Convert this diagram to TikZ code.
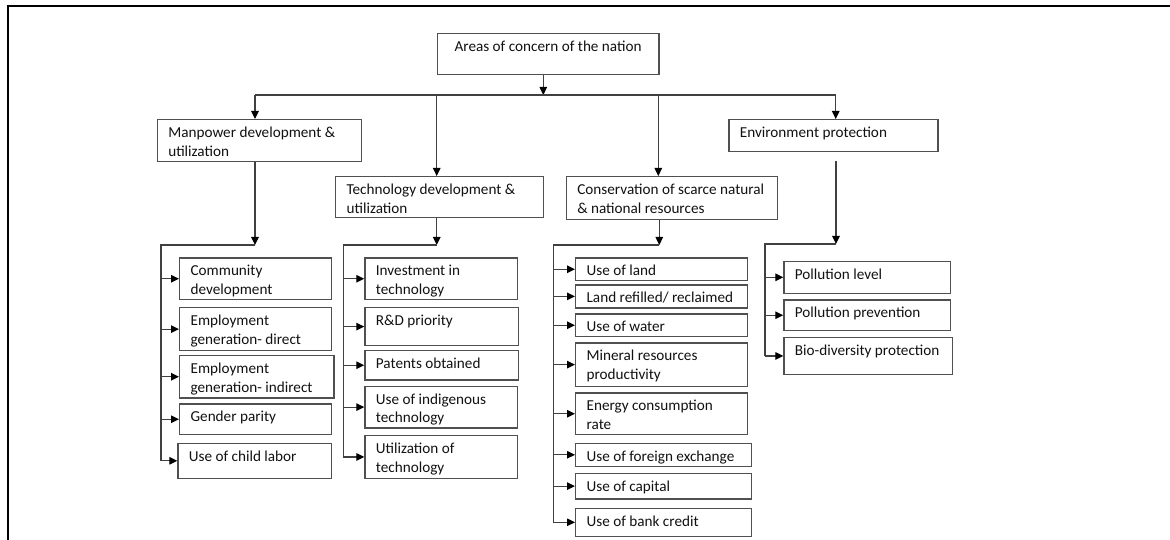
\documentclass[tikz,border=0pt]{standalone}
\usepackage{fontspec}
\setmainfont{Carlito}
\usetikzlibrary{arrows.meta}
\definecolor{boxc}{HTML}{505050}
\definecolor{linec}{HTML}{404040}
\definecolor{txtc}{HTML}{111111}
% left-aligned box text, indented from the border
\newcommand\cbxleft{\leftskip=11pt\rightskip=0pt plus 1fil\parindent=0pt\parfillskip=0pt plus 1fil\relax}
% text box: [alignment]{name}{x1}{y1}{x2}{y2}{text}
\newcommand\cbx[7][\cbxleft]{%
  \pgfmathsetmacro\cbxw{#5-#3}\pgfmathsetmacro\cbxh{#6-#4}%
  \node[cbox] (#2) at (#3,#4) {\parbox[t][\cbxh pt][t]{\cbxw pt}{#1\rule{0pt}{18pt}#7}};}
\tikzset{
  cbox/.style={draw=boxc, line width=1.2pt, inner sep=0pt, anchor=north west,
    text=txtc, font=\fontsize{15.2}{18.5}\selectfont},
  ln/.style={draw=linec, line width=1.2pt},
  arr/.style={ln, -{Triangle[length=8pt,width=7.5pt,color=black]}},
}
\begin{document}
\begin{tikzpicture}[x=1pt,y=-1pt]
\useasboundingbox (0,0) rectangle (1170,540);
% page frame
\draw[line width=2pt] (8,540) -- (8,6) -- (1170,6);

% top level and the four areas
\cbx[\centering]{top}{436.7}{33.3}{658.3}{74.3}{Areas of concern of the nation}
\cbx{mp}{156.7}{119}{360.7}{161.3}{Manpower development \&\\utilization}
\cbx{tech}{335}{176}{542.7}{217.3}{Technology development \&\\utilization}
\cbx{cons}{565.7}{176}{776.7}{219.3}{Conservation of scarce natural\\\& national resources}
\cbx{env}{728.3}{119}{937.3}{151}{Environment protection}

% manpower
\cbx{ma}{179}{257.3}{330.7}{299}{Community\\development}
\cbx{mb}{179}{307}{330.7}{350}{Employment\\generation- direct}
\cbx{mc}{179}{355}{333.3}{397.3}{Employment\\generation- indirect}
\cbx{md}{179}{403.3}{330.7}{434}{Gender parity}
\cbx{me}{177.3}{442.7}{331}{477.7}{Use of child labor}

% technology
\cbx{ta}{364.3}{257.3}{517}{299}{Investment in\\technology}
\cbx{tb}{364.3}{307}{518}{345}{R\&D priority}
\cbx{tc}{364.3}{350}{518}{379.3}{Patents obtained}
\cbx{td}{364.3}{385.7}{517}{427.3}{Use of indigenous\\technology}
\cbx{te}{364.3}{435}{517}{477.7}{Utilization of\\technology}

% conservation
\cbx{ca}{575}{257.3}{746.7}{280}{Use of land}
\cbx{cb}{575}{284.3}{746.7}{307.3}{Land refilled/ reclaimed}
\cbx{cc}{575}{313.3}{746.7}{336}{Use of water}
\cbx{cd}{575}{342.3}{746.7}{385.7}{Mineral resources\\productivity}
\cbx{ce}{575}{392.3}{746.7}{434}{Energy consumption\\rate}
\cbx{cf}{575}{442.7}{750.7}{465.7}{Use of foreign exchange}
\cbx{cg}{575}{472.7}{750.7}{498.3}{Use of capital}
\cbx{ch}{575}{507.7}{750.7}{535.7}{Use of bank credit}

% environment
\cbx{ea}{783.3}{260.7}{950}{292.7}{Pollution level}
\cbx{eb}{783.3}{299.3}{950}{330}{Pollution prevention}
\cbx{ec}{783.3}{336.7}{951.7}{374}{Bio-diversity protection}

% distribution bus below the top box
\coordinate (bus) at (543.3,95);
\coordinate (b1) at (255,95);
\coordinate (b2) at (436.7,95);
\coordinate (b3) at (658.3,95);
\coordinate (b4) at (835.7,95);
\draw[arr] (top.south -| bus) -- (bus);
\draw[ln] (b1) -- (b4);
\draw[arr] (b1) -- (b1 |- mp.north);
\draw[arr] (b2) -- (b2 |- tech.north);
\draw[arr] (b3) -- (b3 |- cons.north);
\draw[arr] (b4) -- (b4 |- env.north);

% branch junctions and spines
\coordinate (mj) at (255,245);   \coordinate (ms) at (161,245);
\coordinate (tj) at (436.7,245); \coordinate (ts) at (343.3,245);
\coordinate (cj) at (659.3,245); \coordinate (cs) at (553.3,245);
\coordinate (ej) at (836,244);   \coordinate (es) at (765,244);

\draw[arr] (mp.south -| mj) -- (mj);
\draw[ln] (mj) -- (ms) -- (ms |- me.west);
\foreach \n in {ma,mb,mc,md,me} \draw[arr] (ms |- \n.west) -- (\n.west);

\draw[arr] (tech.south -| tj) -- (tj);
\draw[ln] (tj) -- (ts) -- (ts |- te.west);
\foreach \n in {ta,tb,tc,td,te} \draw[arr] (ts |- \n.west) -- (\n.west);

\draw[arr] (cons.south -| cj) -- (cj);
\draw[ln] (cj) -- (cs) -- (cs |- ch.west);
\foreach \n in {ca,cb,cc,cd,ce,cf,cg,ch} \draw[arr] (cs |- \n.west) -- (\n.west);

\draw[arr, shorten <=9pt] (env.south -| ej) -- (ej);
\draw[ln] (ej) -- (es) -- (es |- ec.west);
\foreach \n in {ea,eb,ec} \draw[arr] (es |- \n.west) -- (\n.west);
\end{tikzpicture}
\end{document}
